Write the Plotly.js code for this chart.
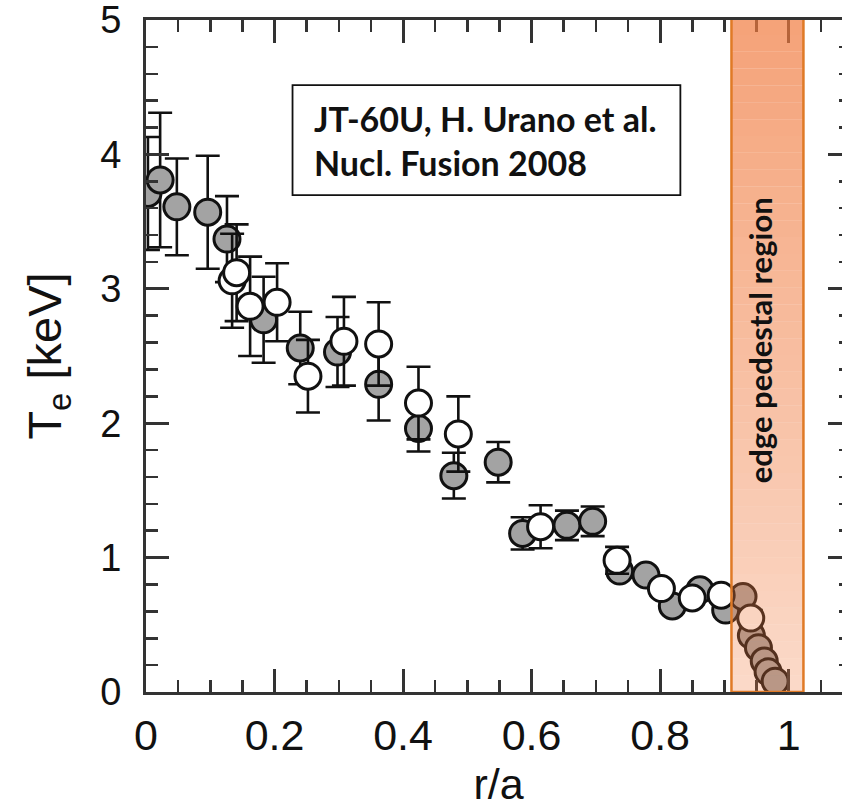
<!DOCTYPE html>
<html>
<head>
<meta charset="utf-8">
<script src="https://cdn.plot.ly/plotly-3.0.1.min.js"></script>
<style>
html,body{margin:0;padding:0;overflow:hidden;background:#fff;}
#chart{width:870px;height:811px;}
</style>
</head>
<body>
<div id="chart"></div>
<script>
// Gray (filled) points: r/a, Te [keV], error
const grayX = [0.003,0.022,0.048,0.096,0.126,0.183,0.240,0.298,0.362,0.424,0.479,0.548,0.586,0.655,0.695,0.737,0.778,0.819,0.862,0.902,0.929,0.942,0.953,0.962,0.968,0.979];
const grayY = [3.71,3.81,3.61,3.57,3.37,2.77,2.56,2.53,2.29,1.96,1.61,1.71,1.18,1.24,1.27,0.90,0.87,0.64,0.76,0.61,0.71,0.42,0.33,0.23,0.15,0.08];
const grayErr = [0.42,0.50,0.36,0.42,0.32,0.32,0.27,0.26,0.27,0.17,0.17,0.15,0.12,0.11,0.11,0.05,0.05,0.05,0.05,0.05,0.05,0.05,0.04,0.04,0.04,0.04];
// Open (white) points
const openX = [0.134,0.141,0.162,0.204,0.252,0.308,0.362,0.424,0.486,0.614,0.733,0.802,0.850,0.895,0.941];
const openY = [3.06,3.12,2.87,2.90,2.35,2.61,2.59,2.15,1.92,1.23,0.98,0.77,0.70,0.72,0.55];
const openErr = [0.35,0.36,0.37,0.29,0.27,0.33,0.31,0.27,0.28,0.16,0.10,0.05,0.05,0.05,0.06];

const xTickVals = [0,0.2,0.4,0.6,0.8,1];
const xTickText = ['0','0.2','0.4','0.6','0.8','1'];
const yTickVals = [0,1,2,3,4,5];
const yTickText = ['0','1','2','3','4','5'];

const pedestal = {x0:0.911, x1:1.023, y0:0, y1:5.015};

const errStyle = {type:'data', visible:true, color:'#111', thickness:2.6, width:12};

const traces = [
  {x:grayX, y:grayY, type:'scatter', mode:'markers', showlegend:false,
   error_y:Object.assign({array:grayErr}, errStyle),
   marker:{size:26, color:'#a3a3a3', line:{color:'#111', width:3}}},
  {x:openX, y:openY, type:'scatter', mode:'markers', showlegend:false,
   error_y:Object.assign({array:openErr}, errStyle),
   marker:{size:26, color:'#ffffff', line:{color:'#111', width:3}}}
];

const shapes = [];
const N = 40;
for (let i = 0; i < N; i++) {
  const f = (i + 0.5) / N;
  const a = 0.28 + (0.70 - 0.28) * f;
  shapes.push({type:'rect', xref:'x', yref:'y', layer:'above',
    x0:pedestal.x0, x1:pedestal.x1,
    y0:pedestal.y0 + (pedestal.y1 - pedestal.y0) * i / N,
    y1:pedestal.y0 + (pedestal.y1 - pedestal.y0) * (i + 1) / N,
    line:{width:0}, fillcolor:'rgba(240,122,62,' + a.toFixed(3) + ')'});
}
shapes.push({type:'rect', xref:'x', yref:'y', layer:'above',
  x0:pedestal.x0, x1:pedestal.x1, y0:pedestal.y0, y1:pedestal.y1,
  line:{color:'#e07a26', width:2.5}, fillcolor:'rgba(0,0,0,0)'});
// citation box
shapes.push({type:'rect', xref:'x', yref:'y', layer:'above',
  x0:0.228, x1:0.8315, y0:3.698, y1:4.516,
  line:{color:'#111', width:1.8}, fillcolor:'#ffffff'});

const annotations = [
  {xref:'x', yref:'y', x:0.258, y:4.107, xanchor:'left', yanchor:'middle', align:'left',
   showarrow:false, text:'JT-60U, H. Urano et al.<br>Nucl. Fusion 2008',
   font:{family:'Lato, "Open Sans", sans-serif', size:34, color:'#111', weight:'bold'}},
  {xref:'x', yref:'y', x:0.956, y:2.62, xanchor:'center', yanchor:'middle',
   showarrow:false, textangle:-90, text:'edge pedestal region',
   font:{family:'Lato, "Open Sans", sans-serif', size:31, color:'#111', weight:'bold'}}
];

const axisCommon = {
  showline:true, linecolor:'#333', linewidth:3, mirror:'ticks',
  ticks:'inside', ticklen:23, tickwidth:3, tickcolor:'#333',
  showgrid:false, zeroline:false, ticklabeloverflow:'allow'
};

const layout = {
  width:870, height:811,
  margin:{l:146, r:19, t:20, b:119},
  paper_bgcolor:'#fff', plot_bgcolor:'#fff',
  showlegend:false,
  xaxis:Object.assign({}, axisCommon, {
    range:[0,1.097], tickmode:'array', tickvals:xTickVals, ticktext:xTickText,
    ticklabelstandoff:3,
    tickfont:{family:'"Liberation Sans", Arial, sans-serif', size:43, color:'#111'},
    minor:{dtick:0.05, tick0:0, ticks:'inside', ticklen:12, tickwidth:2.5, tickcolor:'#333'},
    title:{text:'r/a', font:{family:'"Liberation Sans", Arial, sans-serif', size:43, color:'#111'}, standoff:12}
  }),
  yaxis:Object.assign({}, axisCommon, {
    range:[0,5.0005], tickmode:'array', tickvals:yTickVals, ticktext:yTickText,
    ticklabelstandoff:14,
    tickfont:{family:'"Liberation Sans", Arial, sans-serif', size:38, color:'#111'},
    minor:{dtick:0.2, tick0:0, ticks:'inside', ticklen:12, tickwidth:2.5, tickcolor:'#333'},
    title:{text:'T<sub>e</sub> [keV]', font:{family:'"Liberation Sans", Arial, sans-serif', size:47, color:'#111'}, standoff:24}
  }),
  shapes:shapes,
  annotations:annotations
};

Plotly.newPlot('chart', traces, layout, {displayModeBar:false, staticPlot:true});
</script>
</body>
</html>
